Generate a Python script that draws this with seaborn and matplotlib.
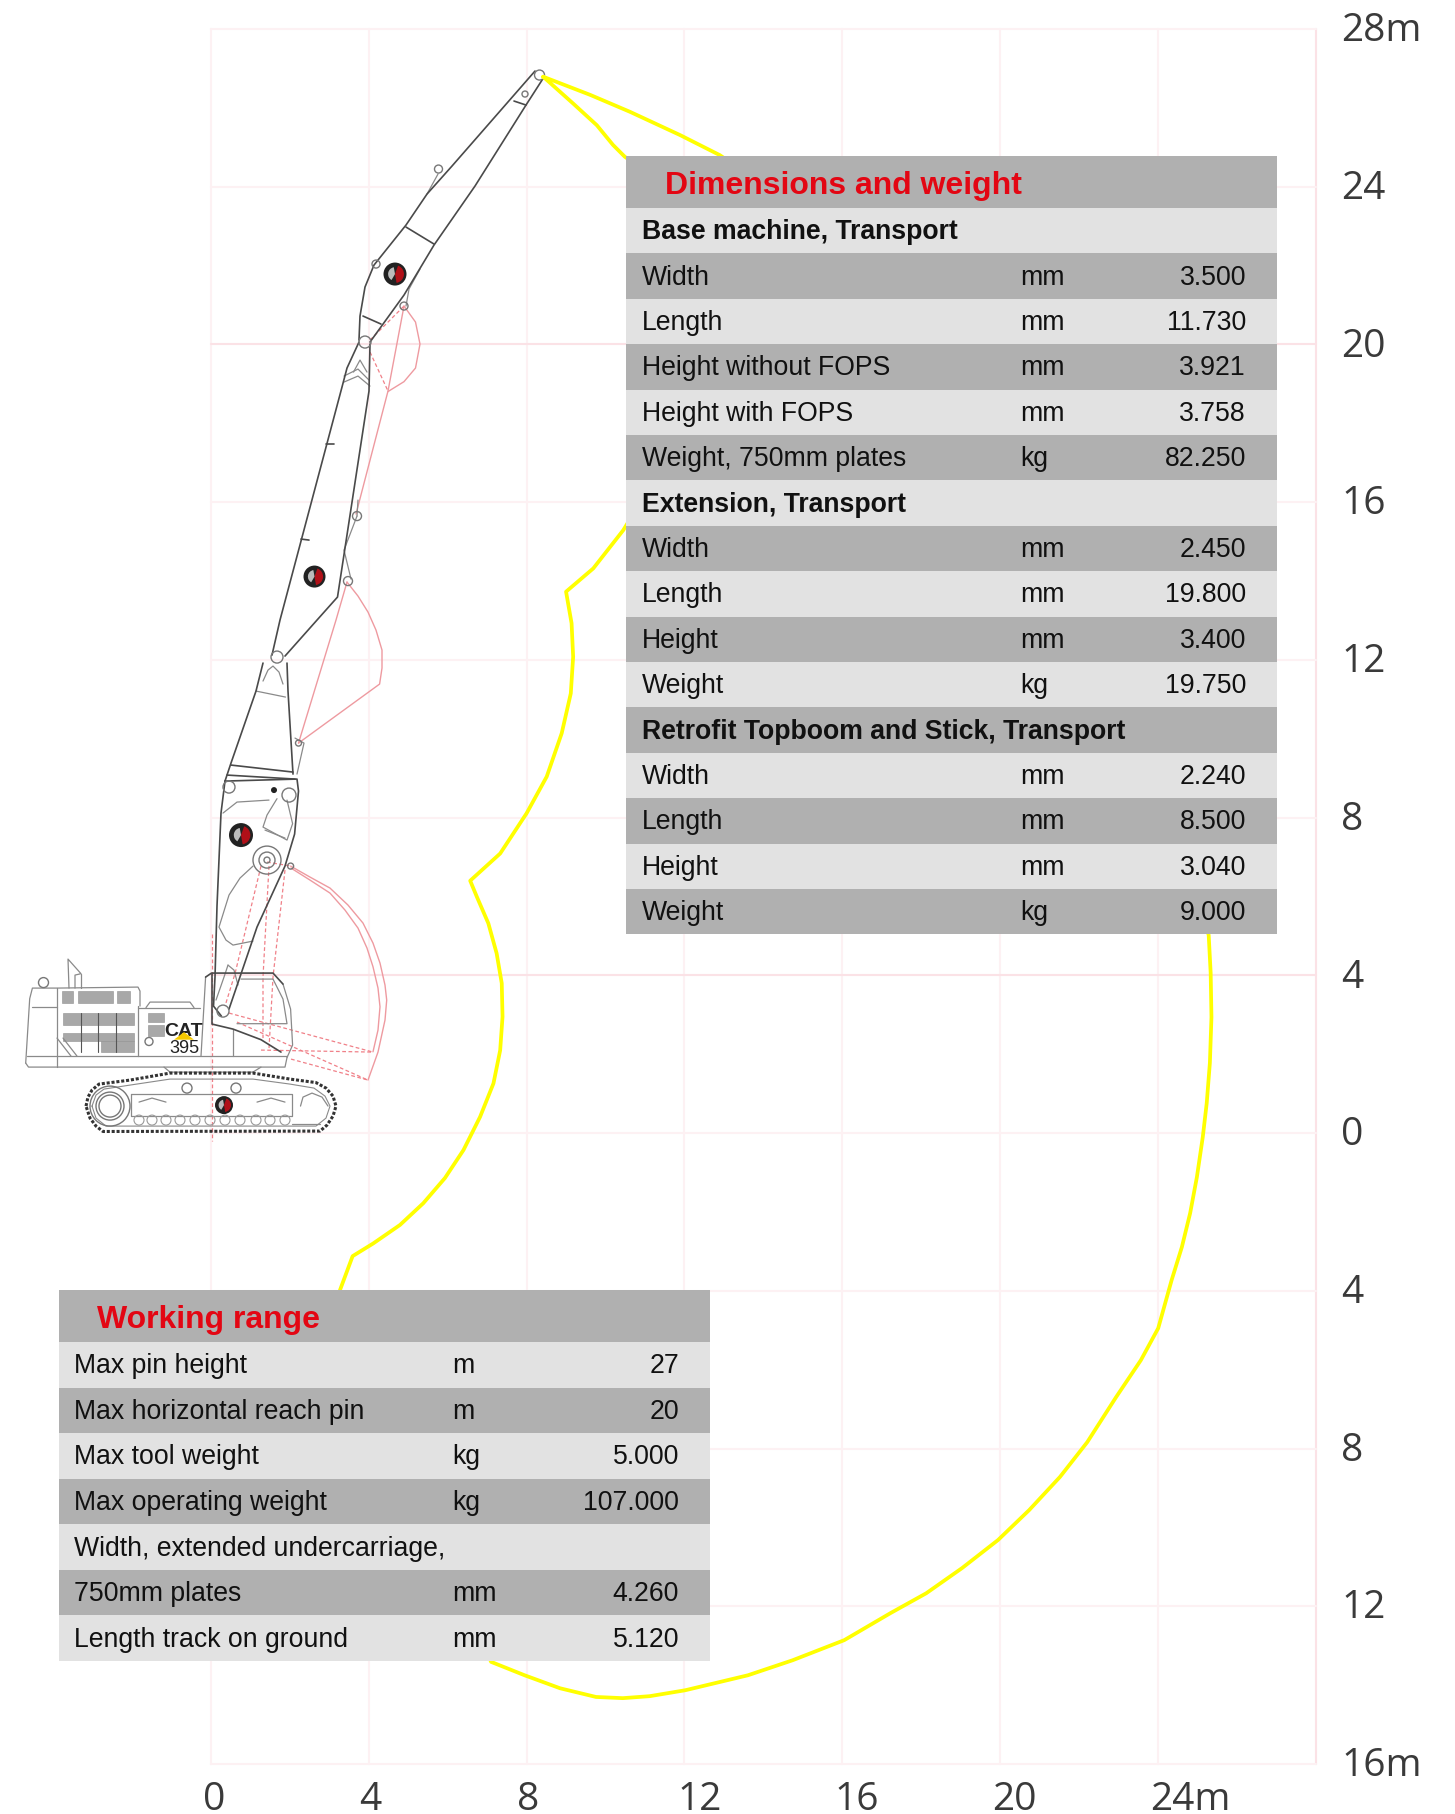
import matplotlib
matplotlib.use("Agg")
import matplotlib.pyplot as plt
import numpy as np
import pandas as pd
import seaborn as sns
from matplotlib.patches import Circle, Wedge, Polygon, Rectangle
from matplotlib.transforms import Bbox, TransformedBbox, IdentityTransform, ScaledTranslation

# ---------- axis data ----------
x_ticks = [0, 4, 8, 12, 16, 20, 24, 28]
x_labels = ["0", "4", "8", "12", "16", "20", "24m", ""]
y_ticks = [28, 24, 20, 16, 12, 8, 4, 0, -4, -8, -12, -16]
y_labels = ["28m", "24", "20", "16", "12", "8", "4", "0", "4", "8", "12", "16m"]

# ---------- working envelope, metres ----------
env_x = [8.42, 9.61, 10.62, 11.89, 12.90, 15.5, 18.5, 21.5, 23.8, 25.29, 25.34, 25.36, 25.32, 25.24, 25.14, 24.99, 24.82,
         24.61, 24.35, 24.01, 23.57, 22.94, 22.21, 21.52, 20.74, 19.95, 19.04, 18.13, 17.23, 16.05, 14.74, 13.61,
         12.02, 11.12, 10.44, 9.76, 8.85, 7.95, 7.10, 5.5, 3.27, 3.59, 4.11, 4.79, 5.38, 5.93, 6.40, 6.82, 7.16,
         7.33, 7.39, 7.37, 7.24, 7.03, 6.74, 6.57, 7.33, 8.00, 8.51, 8.89, 9.12, 9.18, 9.14, 9.00, 9.69, 10.45,
         11.5, 12.2, 12.5, 11.9, 10.49, 10.19, 9.78, 9.18, 8.42]
env_y = [26.79, 26.33, 25.90, 25.31, 24.80, 23.0, 20.0, 15.5, 10.0, 5.02, 4.06, 2.94, 1.78, 0.76, -0.10, -1.12, -2.03,
         -2.89, -3.73, -4.95, -5.76, -6.70, -7.84, -8.72, -9.56, -10.32, -11.03, -11.67, -12.17, -12.86, -13.37, -13.75,
         -14.13, -14.28, -14.33, -14.30, -14.08, -13.75, -13.41, -10.0, -3.98, -3.12, -2.80, -2.33, -1.78, -1.14, -0.43, 0.41, 1.26,
         2.10, 2.95, 3.80, 4.56, 5.32, 5.99, 6.40, 7.09, 8.11, 9.04, 10.14, 11.15, 12.08, 12.93, 13.73, 14.32, 15.29,
         17.0, 19.5, 22.0, 23.8, 24.76, 25.06, 25.56, 26.11, 26.79]

# ---------- machine line art, outline vertices on the 39.45 px/m sheet ----------
ORIGIN_X, ORIGIN_Y, SHEET_X, SHEET_Y = 211.0, 1133.0, 39.45, 39.43
dark_lines = [
    [(535,71),(452,166),(427,194),(406,225),(374,265),(365,287),(360,316),(359,340)],
    [(544,77),(526,105),(475,186),(434,245),(404,295),(370,342)],
    [(514,101),(526,105)], [(406,227),(434,244)], [(363,316),(381,324)],
    [(359,342),(347,368),(342,387),(280,620),(272,655)],
    [(370,344),(369,391),(337.5,597),(317,620),(285,656)],
    [(326,444),(334,444)], [(301,539),(309,540)],
    [(263,663),(256,691),(231,763),(225,781)], [(287,663),(288,691),(293,774)],
    [(225,781),(297,779),(298.5,791),(294.6,834),(285,866),(257,927),(229,1009)],
    [(225,781),(221,813),(217,906),(215,977),(213.5,1006),(221.4,1016)],
    [(231,765),(293,772)], [(227,775),(295,779)],
    [(212,974),(212,1024),(233,1029),(261,1039.6),(281,1052)],
    [(205.6,977),(211.5,973),(273,973),(283,984)],
]
light_lines = [
    [(438,174),(427,194)], [(420,269),(409,289),(406,306)],
    [(353.5,372),(360,360),(367,372)], [(344,382),(358,376),(370,386)], [(344,376),(358,369),(369,380)],
    [(357,516),(344,550),(351,579)], [(358,500),(357,516)],
    [(256,691),(285.5,697)], [(263,681),(268,670),(273,666),(279,672),(283,684)],
    [(295,738),(304,743),(297,774)],
    [(277,798.6),(267,815),(263,827),(287,840),(292.6,823.6),(287,800)], [(265,830),(285,838)],
    [(253,866),(240,878),(229,895),(219,927),(226,940),(233,945),(253,941)],
    [(223,813),(237,802),(269,800)],
    [(201,1056),(205.6,977)], [(283,984),(290.6,1009),(292.6,1045),(287,1057.5)],
    [(241,979),(273,979),(283,999),(287,1023.6),(237,1023.6)], [(233,1029),(233,1056)],
    [(228,965),(224,977),(216,1000)], [(228,965),(234,970),(238,985)],
    [(138,1056),(287,1056)],
    [(25.7,1063),(29.7,998.6),(32.4,988),(57,988),(138,987),(140,991),(140,1006)],
    [(25.7,1063),(28.5,1067),(285,1067),(287,1057.5)], [(27,1056),(138,1056)],
    [(57.3,988),(57.3,1067)], [(138.4,1006),(138.4,1056)],
    [(146,1007.5),(150,1002),(190,1002),(194,1007.5)], [(138,1007.5),(200,1007.5)],
    [(69,988),(68,959),(81,973.6),(75,975),(75,988)], [(81,973.6),(81,988)],
    [(32,1006.6),(57,1006.6)], [(57,1038),(71,1056)], [(63,1038),(77,1056)],
    [(164,1067),(170,1072),(253,1072),(261,1067)],
    [(131,1094),(292,1094),(292,1116),(131,1116),(131,1094)],
    [(292,1123.6),(320,1123.6)],
    [(139,1102),(152,1098),(166,1102)], [(257,1102),(271,1098),(285,1102)],
    [(300.5,1106),(303,1097),(312,1093),(322,1097),(328,1106)],
]
track_outer = [(86,1106),(88,1097),(92,1090),(99,1084),(130,1080),(170,1073),(253,1073),(290,1079),(316,1082.5),(326,1088),(333,1096),(336,1106),
               (333,1116),(327,1125),(320,1131),(103,1131.4),(96,1126),(90,1118),(86,1106)]
track_inner = [(92,1106),(96,1095),(104,1089),(130,1085),(170,1079),(253,1079),(290,1084),(314,1088),(325,1096),(330,1106),
               (326,1118),(316,1126),(106,1126),(96,1118),(92,1106)]
red_solid = [
    [(404,306),(415.5,322),(420,344),(415.5,368),(404,381.6),(388,391.5)],
    [(404,306),(388,391),(356,514)],
    [(347,582),(358,596),(368,612),(376,630),(382,650),(382,668),(379.6,684),(298.5,743)],
    [(347,582),(336,620),(298.5,743)],
    [(290.6,866),(310,877),(330,888),(348,905),(363,923),(373,943),(380,963),(385,985),(386.7,1000),(385,1020),(378,1052),(368,1080)],
    [(291,868),(310,880),(330,893),(345,910),(358,928),(367,948),(373,966.7),(378,988),(380,1006.7),(378,1030),(373,1051.7)],
]
red_dashed = [
    [(370,352),(388,391)], [(370,340),(404,306)],
    [(261,866),(235,973.6),(225,1006)], [(269,866),(263,977),(263,1038)], [(285,870),(273,977),(269,1048.6)],
    [(229,1013),(373,1052)], [(261,1050),(373,1052)], [(237,1022),(368,1080)], [(291,1059),(368,1080)],
    [(267,862),(291,866)], [(211.5,934),(211.5,1141)],
]
grey_blocks = [(63,1013,134,1025.4),(63,1032.5,134,1041.4),(101,1041.4,134,1052),(62.5,990.7,73,1003),(78,990.7,112.7,1003),
               (116.6,990.7,130.5,1003),(148,1013,164,1022),(148,1025.4,164,1036)]
vent_lines = [81, 98, 116]
pins = [(539.5,75,5),(525,94,3),(438.5,169,4),(376,264,4),(365,342,6),(404,306,4),(357,516,4.5),(348,581,4.5),
        (277,657,6),(298.5,743,3),(229,787,6),(289,795,7),(267,860,14),(267,860,8),(267,860,3),(290.6,866,3),
        (223,1011,6),(43.5,982.5,5),(149,1041.4,4),(187,1088,5),(236,1088,5),(110,1106,20),(110,1106,14),(110,1106,11)]
rollers = [139,152,166,180,195,210,225,240,256,270,285]
logos = [(395,274,11.5),(314.5,576.5,11),(241,835,12),(224,1105,9)]

# ---------- tables ----------
dim_title = "Dimensions and weight"
dim_labels = ["Base machine, Transport","Width","Length","Height without FOPS","Height with FOPS","Weight, 750mm plates",
              "Extension, Transport","Width","Length","Height","Weight","Retrofit Topboom and Stick, Transport",
              "Width","Length","Height","Weight"]
dim_units = ["","mm","mm","mm","mm","kg","","mm","mm","mm","kg","","mm","mm","mm","kg"]
dim_values = ["","3.500","11.730","3.921","3.758","82.250","","2.450","19.800","3.400","19.750","","2.240","8.500","3.040","9.000"]
dim_bold = [0, 6, 11]
dim_dark = [1, 3, 5, 7, 9, 11, 13, 15]
work_title = "Working range"
work_labels = ["Max pin height","Max horizontal reach pin","Max tool weight","Max operating weight",
               "Width, extended undercarriage,","750mm plates","Length track on ground"]
work_units = ["m","m","kg","kg","","mm","mm"]
work_values = ["27","20","5.000","107.000","","4.260","5.120"]
work_dark = [1, 3, 5]

W, H = 1455, 1814
TABLE_FONT = "Liberation Sans"
DARK, LIGHT, RED, INK = "#B0B0B0", "#E2E2E2", "#E30613", "#111111"
GRID, GRID2, YELLOW = "#FDF1F3", "#FBE2E6", "#FFFF00"
LINE, LINE_L, PINK = "#4a4a4a", "#8a8a8a", "#EE9AA0"
X_NUDGE_PX = [-8, -10, -10, -7, -8, -8, -8, -8]

sns.set_theme(style="white")
fig = plt.figure(figsize=(W/100, H/100), dpi=100, facecolor="white")
ax = fig.add_axes([211/W, 1-1764/H, (1316-211)/W, (1764-29)/H])
ax.set_xlim(0, 28.01); ax.set_ylim(-16, 28)
sns.despine(ax=ax, left=True, bottom=True, right=True, top=True)

ax.set_xticks(x_ticks, x_labels)
ax.yaxis.tick_right()
ax.set_yticks(y_ticks, y_labels)
ax.tick_params(length=0, labelsize=28, labelcolor="#3a3a3a", axis="both")
ax.tick_params(axis="y", pad=18.3)
ax.tick_params(axis="x", pad=12.5)
for lab in ax.get_xticklabels() + ax.get_yticklabels():
    lab.set_fontfamily("Open Sans")
for lab, nudge in zip(ax.get_xticklabels(), X_NUDGE_PX):
    lab.set_ha("left")
    lab.set_transform(lab.get_transform() + ScaledTranslation(nudge/100, 0, fig.dpi_scale_trans))
clip = TransformedBbox(Bbox([[0, 0], [1420, H]]), IdentityTransform())
for lab in ax.get_yticklabels():
    lab.set_transform(lab.get_transform() + ScaledTranslation(0, 2.3/100, fig.dpi_scale_trans))
    lab.set_clip_box(clip); lab.set_clip_on(True)

ax.grid(False)
for v in x_ticks:
    ax.axvline(v, color=GRID2 if v == 28 else GRID, lw=1.5, zorder=1, clip_on=False)
for v in y_ticks:
    ax.axhline(v, color=GRID2 if v in (20, 4) else GRID, lw=1.5, zorder=1, clip_on=False)

def mx(v): return (np.asarray(v, float) - ORIGIN_X) / SHEET_X
def my(v): return (ORIGIN_Y - np.asarray(v, float)) / SHEET_Y
def rm(r): return r / SHEET_X
def stroke(pts, **kw):
    a = np.array(pts, float)
    ax.plot(mx(a[:, 0]), my(a[:, 1]), clip_on=False, solid_capstyle="round", solid_joinstyle="round", **kw)

for p in red_solid:
    stroke(p, color=PINK, lw=1.0, zorder=2)
for p in red_dashed:
    stroke(p, color="#F08088", lw=0.9, ls=(0, (3, 2)), zorder=2)
for b in grey_blocks:
    ax.add_patch(Rectangle((mx(b[0]), my(b[3])), rm(b[2]-b[0]), rm(b[3]-b[1]), fc="#A8A8A8", ec="#909090", lw=0.4, zorder=2, clip_on=False))
for v in vent_lines:
    stroke([(v, 1013), (v, 1052)], color="#555555", lw=0.8, zorder=2.1)
for p in light_lines:
    stroke(p, color=LINE_L, lw=0.9, zorder=3)
for p in dark_lines:
    stroke(p, color=LINE, lw=1.2, zorder=3)
stroke(track_outer, color="#333333", lw=2.2, ls=(0, (1.0, 0.6)), zorder=3)
stroke(track_inner, color=LINE_L, lw=0.8, zorder=3)
for cx, cy, r in pins:
    ax.add_patch(Circle((mx(cx), my(cy)), rm(r), fc="none", ec="#777777", lw=1.0, zorder=3.2, clip_on=False))
for cx in rollers:
    ax.add_patch(Circle((mx(cx), my(1120)), rm(5), fc="none", ec="#999999", lw=0.8, zorder=3.2, clip_on=False))
ax.add_patch(Circle((mx(274), my(790)), rm(3), fc="#222222", ec="none", zorder=3.3, clip_on=False))
for cx, cy, r in logos:
    c = (mx(cx), my(cy))
    ax.add_patch(Circle(c, rm(r), fc="#222222", ec="none", zorder=4, clip_on=False))
    ax.add_patch(Wedge(c, rm(r*0.78), -80, 70, fc="#B01018", ec="none", zorder=4.1, clip_on=False))
    ax.add_patch(Wedge(c, rm(r*0.6), 100, 240, fc="#BBBBBB", ec="none", zorder=4.1, clip_on=False))
ax.add_patch(Polygon(np.c_[mx([174, 184, 194]), my([1039.6, 1032, 1039.6])], fc="#F5C800", ec="none", zorder=4.2, clip_on=False))
ax.text(mx(184), my(1031), "CAT", ha="center", va="center", fontsize=14, fontweight="bold", family=TABLE_FONT, color="#222222", zorder=4.1, clip_on=False)
ax.text(mx(184), my(1048), "395", ha="center", va="center", fontsize=13, family=TABLE_FONT, color="#222222", zorder=4.1, clip_on=False)

env = pd.DataFrame({"reach": env_x, "height": env_y})
sns.lineplot(data=env, x="reach", y="height", sort=False, estimator=None, color=YELLOW, lw=2.7, ax=ax, zorder=5, clip_on=False)
ax.set_xlabel(""); ax.set_ylabel("")

def table(left, top, right, title_bottom, bottom, title, labels, units, values, dark, bold, text_x, unit_x, value_x, title_x):
    t = fig.add_axes([left/W, 1-bottom/H, (right-left)/W, (bottom-top)/H], zorder=10)
    t.set_xlim(left, right); t.set_ylim(bottom, top); t.axis("off")
    n = len(labels)
    rh = (bottom - title_bottom) / n
    centres = title_bottom + rh * (np.arange(n) + 0.5)
    t.barh([(top+title_bottom)/2], [right-left], left=left, height=title_bottom-top, color=DARK, linewidth=0, edgecolor="none")
    t.barh(centres, [right-left]*n, left=left, height=rh, color=[DARK if i in dark else LIGHT for i in range(n)], linewidth=0, edgecolor="none")
    t.text(title_x, (top+title_bottom)/2+4, title, color=RED, fontsize=23, fontweight="bold", family=TABLE_FONT, va="center")
    for i in range(n):
        kw = dict(fontsize=19.2, family=TABLE_FONT, color=INK, va="center")
        y = centres[i] + 1.5
        t.text(text_x, y, labels[i], fontweight="bold" if i in bold else "normal", **kw)
        t.text(unit_x, y, units[i], **kw)
        t.text(value_x, y, values[i], ha="right", **kw)

table(625.5, 156, 1277, 208, 934.5, dim_title, dim_labels, dim_units, dim_values, dim_dark, dim_bold, 642, 1020, 1246, 665)
table(58.5, 1290, 709.5, 1342, 1661, work_title, work_labels, work_units, work_values, work_dark, [], 74, 452, 679, 97)

fig.savefig("out.png", dpi=100, facecolor="white")
